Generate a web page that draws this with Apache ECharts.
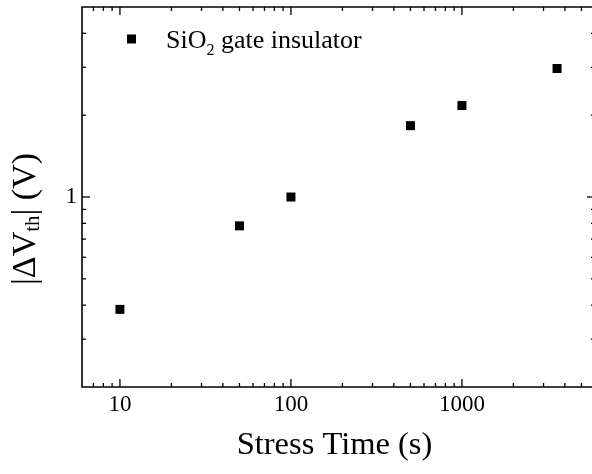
<!DOCTYPE html>
<html>
<head>
<meta charset="utf-8">
<script src="https://cdn.jsdelivr.net/npm/echarts@6/dist/echarts.min.js"></script>
<style>html,body{margin:0;padding:0;background:#fff;}#c{width:592px;height:474px;}</style>
</head>
<body>
<div id="c"></div>
<script>
// Data
const stressTime = [10, 50, 100, 500, 1000, 3600];
const deltaVth = [0.386, 0.783, 1.0, 1.83, 2.17, 2.97];
const seriesName = 'SiO2 gate insulator';

// Axis ranges and tick values
const X_MIN = 6, X_MAX = 6000;
const Y_MIN = 0.2, Y_MAX = 5;
const xMajorTicks = [10, 100, 1000];
const xMinorTicks = [7, 8, 9, 20, 30, 40, 50, 60, 70, 80, 90, 200, 300, 400, 500, 600, 700, 800, 900, 2000, 3000, 4000, 5000];
const yMajorTicks = [1];
const yMinorTicks = [0.3, 0.4, 0.5, 0.6, 0.7, 0.8, 0.9, 2, 3, 4];

const FONT = "'Liberation Serif', 'Times New Roman', serif";

function isDecade(v) {
  const e = Math.log10(v);
  return Math.abs(e - Math.round(e)) < 1e-6;
}

function xTickSeries(ticks, len) {
  return {
    type: 'custom', silent: true, clip: false, z: 5,
    data: ticks.map(v => [v, Y_MIN]),
    encode: { x: 0, y: 1 },
    renderItem: function (params, api) {
      const b = api.coord([api.value(0), Y_MIN]);
      const t = api.coord([api.value(0), Y_MAX]);
      const st = { stroke: '#000', lineWidth: 1.3 };
      return { type: 'group', children: [
        { type: 'line', shape: { x1: b[0], y1: b[1], x2: b[0], y2: b[1] - len }, style: st },
        { type: 'line', shape: { x1: t[0], y1: t[1], x2: t[0], y2: t[1] + len }, style: st }
      ]};
    }
  };
}
function yTickSeries(ticks, len) {
  return {
    type: 'custom', silent: true, clip: false, z: 5,
    data: ticks.map(v => [X_MIN, v]),
    encode: { x: 0, y: 1 },
    renderItem: function (params, api) {
      const l = api.coord([X_MIN, api.value(1)]);
      const r = api.coord([X_MAX, api.value(1)]);
      const st = { stroke: '#000', lineWidth: 1.3 };
      return { type: 'group', children: [
        { type: 'line', shape: { x1: l[0], y1: l[1], x2: l[0] + len, y2: l[1] }, style: st },
        { type: 'line', shape: { x1: r[0], y1: r[1], x2: r[0] - len, y2: r[1] }, style: st }
      ]};
    }
  };
}

const chart = echarts.init(document.getElementById('c'), null, { renderer: 'canvas' });
chart.setOption({
  animation: false,
  backgroundColor: '#fff',
  grid: { left: 82, width: 513, top: 7, height: 380, outerBoundsMode: 'none', containLabel: false,
    show: true, borderColor: '#000', borderWidth: 1.6, backgroundColor: 'transparent' },
  legend: {
    left: 122, top: 23,
    data: [seriesName],
    icon: 'rect', itemWidth: 9, itemHeight: 9,
    itemStyle: { color: '#000', opacity: 1 },
    formatter: function () { return '{n|SiO}{s|2}{n| gate insulator}'; },
    textStyle: {
      padding: [0, 0, 0, 25],
      rich: {
        n: { fontFamily: FONT, fontSize: 26, color: '#000', lineHeight: 30, verticalAlign: 'bottom' },
        s: { fontFamily: FONT, fontSize: 16, color: '#000', lineHeight: 20, verticalAlign: 'bottom', padding: [0, 0, -5, 0] }
      }
    }
  },
  xAxis: {
    type: 'log', logBase: 10, min: X_MIN, max: X_MAX,
    axisLine: { show: false }, axisTick: { show: false }, splitLine: { show: false },
    axisLabel: { margin: 6, fontFamily: FONT, fontSize: 23, color: '#000',
      formatter: v => isDecade(v) ? String(Math.round(v)) : '' },
    name: 'Stress Time (s)', nameLocation: 'middle', nameGap: 42,
    nameTextStyle: { fontFamily: FONT, fontSize: 32.5, color: '#000', padding: [0, 8, 0, 0] }
  },
  yAxis: {
    type: 'log', logBase: 10, min: Y_MIN, max: Y_MAX,
    axisLine: { show: false }, axisTick: { show: false }, splitLine: { show: false },
    axisLabel: { margin: 5, fontFamily: FONT, fontSize: 23, color: '#000',
      formatter: v => isDecade(v) ? String(Math.round(v)) : '' },
    name: '|ΔV{s|th}| (V)', nameLocation: 'middle', nameGap: 38,
    nameTextStyle: { fontFamily: FONT, fontSize: 34, color: '#000', padding: [0, 44, 0, 0],
      rich: { s: { fontFamily: FONT, fontSize: 21, color: '#000', verticalAlign: 'bottom', padding: [14, 0, 0, 0] } } }
  },
  series: [
    {
      name: seriesName, type: 'scatter', symbol: 'rect', symbolSize: 9,
      itemStyle: { color: '#000', opacity: 1 }, z: 10,
      data: stressTime.map((t, i) => [t, deltaVth[i]])
    },
    xTickSeries(xMajorTicks, 8),
    xTickSeries(xMinorTicks, 4),
    yTickSeries(yMajorTicks, 8),
    yTickSeries(yMinorTicks, 4)
  ]
});
</script>
</body>
</html>
